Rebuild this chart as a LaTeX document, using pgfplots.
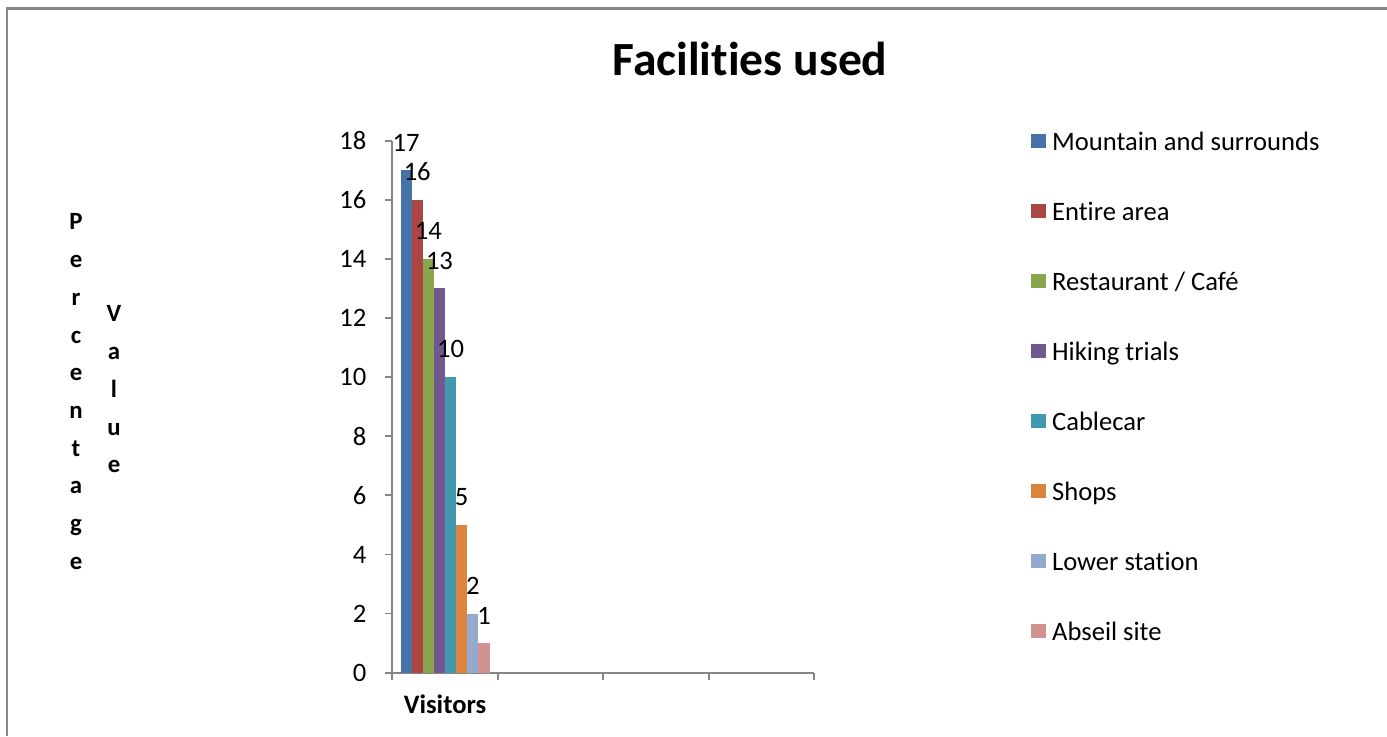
\documentclass[border=0pt]{standalone}
\usepackage{fontspec}
\setmainfont{Carlito}[Ligatures=NoCommon]
\usepackage{pgfplots}
\pgfplotsset{compat=1.18}

\definecolor{cMountain}{HTML}{4572A7}
\definecolor{cEntire}{HTML}{AA4643}
\definecolor{cRest}{HTML}{89A54E}
\definecolor{cHiking}{HTML}{71588F}
\definecolor{cCable}{HTML}{4198AF}
\definecolor{cShops}{HTML}{DB843D}
\definecolor{cLower}{HTML}{93A9CF}
\definecolor{cAbseil}{HTML}{D19392}
\definecolor{axisgray}{RGB}{134,134,134}
\definecolor{framegray}{RGB}{136,136,136}

\newcommand{\chartfont}{\fontsize{13.3}{16}\selectfont}

\begin{document}
\begin{tikzpicture}
\path[use as bounding box] (0,0) rectangle (693.5pt,368pt);
% outer chart frame
\draw[framegray, line width=1.1pt] (3.5pt,0pt) -- (3.5pt,363.75pt) -- (693.5pt,363.75pt);
% title
\node[anchor=base, inner sep=0pt, font=\bfseries\fontsize{23.8}{28}\selectfont]
  at (375pt,330.5pt) {Facilities used};
% stacked vertical axis titles
\node[anchor=north, inner sep=0pt, align=center,
  font=\bfseries\fontsize{12.4}{18.85}\selectfont]
  at (38pt,261.25pt) {P\\e\\r\\c\\e\\n\\t\\a\\g\\e};
\node[anchor=north, inner sep=0pt, align=center,
  font=\bfseries\fontsize{12.4}{18.85}\selectfont]
  at (57pt,215.25pt) {V\\a\\l\\u\\e};

\begin{axis}[
  at={(196.15pt,31.65pt)}, anchor=south west,
  scale only axis, width=211pt, height=266pt,
  xmin=0, xmax=4, ymin=0, ymax=18,
  axis lines*=left,
  axis line style={axisgray, line width=0.9pt},
  tick style={axisgray, line width=0.9pt},
  tick align=outside,
  major tick length=3.8pt,
  xtick={0,1,2,3,4}, xticklabels={},
  ytick={0,2,...,18},
  extra x ticks={0.5}, extra x tick labels={\bfseries Visitors},
  extra x tick style={major tick length=0pt,
    tick label style={anchor=base, inner sep=0pt, yshift=-20.15pt}},
  ticklabel style={font=\chartfont},
  yticklabel style={anchor=east, inner sep=0pt, xshift=-9pt},
  /pgf/number format/assume math mode=true,
  ybar=0pt, bar width=5.5625pt,
  nodes near coords,
  every node near coord/.append style={font=\chartfont, inner sep=0pt,
    yshift=9.3pt, text=black},
  legend cell align=left,
  legend style={at={(1.5135,1.0132)}, anchor=north west, draw=none, fill=none,
    inner sep=0pt, outer sep=0pt, row sep=24.5pt, font=\chartfont,
    nodes={inner sep=0pt, text height=8pt, text depth=2pt}},
  legend image code/.code={\fill[#1] (0pt,-1.75pt) rectangle (7.25pt,5.5pt);
    \path (10.55pt,0pt);},
]
\addplot[fill=cMountain, draw=none] coordinates {(0.5,17)};
\addplot[fill=cEntire,   draw=none] coordinates {(0.5,16)};
\addplot[fill=cRest,     draw=none] coordinates {(0.5,14)};
\addplot[fill=cHiking,   draw=none] coordinates {(0.5,13)};
\addplot[fill=cCable,    draw=none] coordinates {(0.5,10)};
\addplot[fill=cShops,    draw=none] coordinates {(0.5,5)};
\addplot[fill=cLower,    draw=none] coordinates {(0.5,2)};
\addplot[fill=cAbseil,   draw=none] coordinates {(0.5,1)};
\legend{Mountain and surrounds, Entire area, Restaurant / Café, Hiking trials,
  Cablecar, Shops, Lower station, Abseil site}
\end{axis}
\end{tikzpicture}
\end{document}
